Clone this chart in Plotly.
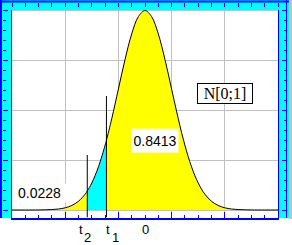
import plotly.graph_objects as go

W, H = 292, 245
MB = 26
PH = H - MB  # plotting height inside margins

# ---------------- data ----------------
curve_x = [-5, -4.5, -4, -3.75, -3.5, -3.25, -3, -2.75, -2.5, -2.25, -2.17, -2, -1.75,
           -1.5, -1.45, -1.25, -1, -0.75, -0.5, -0.25, 0, 0.25, 0.5, 0.75, 1, 1.25,
           1.5, 1.75, 2, 2.25, 2.5, 2.75, 3, 3.25, 3.5, 3.75, 4, 4.5, 5]
curve_y = [0.0, 0.0, 0.0001, 0.0004, 0.0009, 0.002, 0.0044, 0.0091, 0.0175, 0.0317, 0.0379,
           0.054, 0.0863, 0.1295, 0.1394, 0.1826, 0.242, 0.3011, 0.3521, 0.3867, 0.3989,
           0.3867, 0.3521, 0.3011, 0.242, 0.1826, 0.1295, 0.0863, 0.054, 0.0317, 0.0175,
           0.0091, 0.0044, 0.002, 0.0009, 0.0004, 0.0001, 0.0, 0.0]
t_values = [-2.17, -1.45]          # t2, t1
t_line_tops = [0.11, 0.228]
shade_colors = ["#ffff00", "#00ffff", "#ffff00"]
area_labels = ["0.0228", "0.8413"]
area_label_x = [-3.98, 0.365]
area_label_y = [0.034, 0.139]
dist_label = "N[0;1]"
dist_label_x = 3.0
dist_label_y = 0.234
tick_main = ["t", "t", "0"]
tick_sub = ["2", "1", ""]
tick_x = [-2.42, -1.39, 0.0]
x_range = [-5, 5]
y_range = [-0.015, 0.4]

BLUE = "#0000ff"
CYAN = "#00ffff"
GRID = "#c0c0c0"

fig = go.Figure()

# shaded areas under the curve
t2, t1 = t_values
segs = [(x_range[0], t2), (t2, t1), (t1, x_range[1])]
for (a, b), c in zip(segs, shade_colors):
    xs = [x for x in curve_x if a <= x <= b]
    ys = [y for x, y in zip(curve_x, curve_y) if a <= x <= b]
    fig.add_trace(go.Scatter(x=xs, y=ys, mode="lines", fill="tozeroy", fillcolor=c,
                             line=dict(width=0, shape="spline", color=c),
                             showlegend=False, hoverinfo="skip"))

# density curve
fig.add_trace(go.Scatter(x=curve_x, y=curve_y, mode="lines",
                         line=dict(color="black", width=1, shape="spline"),
                         showlegend=False, hoverinfo="skip"))

# vertical t lines
for tv, top in zip(t_values, t_line_tops):
    fig.add_trace(go.Scatter(x=[tv, tv], y=[y_range[0], top], mode="lines",
                             line=dict(color="black", width=1),
                             showlegend=False, hoverinfo="skip"))

# dummy traces to register frame axes
fig.add_trace(go.Scatter(x=[None], y=[None], xaxis="x2", yaxis="y", showlegend=False))
fig.add_trace(go.Scatter(x=[None], y=[None], xaxis="x", yaxis="y2", showlegend=False))
fig.add_trace(go.Scatter(x=[None], y=[None], xaxis="x", yaxis="y3", showlegend=False))

x_dom = [12 / W, 278 / W]
y_dom = [1.5 / PH, 1 - 10 / PH]

fig.update_layout(
    width=W, height=H,
    margin=dict(l=0, r=0, t=0, b=MB, pad=0),
    paper_bgcolor="white", plot_bgcolor="white",
    showlegend=False,
    xaxis=dict(domain=x_dom, range=x_range, showgrid=True, gridcolor=GRID, gridwidth=1,
               tick0=-1, dtick=2, ticks="inside", ticklen=6, tickcolor=BLUE, tickwidth=1,
               minor=dict(tick0=-5, dtick=0.5, ticks="inside", ticklen=3, tickcolor=BLUE,
                          showgrid=False),
               showline=True, linecolor=BLUE, linewidth=1.5, zeroline=False,
               showticklabels=False, fixedrange=True, automargin=False),
    yaxis=dict(domain=y_dom, range=y_range, tick0=0, dtick=0.1, showgrid=True,
               gridcolor=GRID, gridwidth=1, ticks="", showline=True, linecolor=BLUE,
               linewidth=1, mirror=True, zeroline=False, showticklabels=False,
               fixedrange=True, automargin=False),
    xaxis2=dict(overlaying="x", anchor="free", position=1 - 2 / PH, side="bottom",
                range=x_range, tick0=-5, dtick=0.5, ticks="outside", ticklen=4,
                tickcolor=BLUE, showgrid=False, showline=False, zeroline=False,
                showticklabels=False, fixedrange=True, automargin=False),
    yaxis2=dict(overlaying="y", anchor="free", position=2 / W, side="right",
                range=y_range, tick0=0, dtick=0.1, ticks="outside", ticklen=5,
                tickcolor=BLUE,
                minor=dict(dtick=0.02, ticks="outside", ticklen=3, tickcolor=BLUE),
                showgrid=False, showline=False, zeroline=False, showticklabels=False,
                fixedrange=True, automargin=False),
    yaxis3=dict(overlaying="y", anchor="free", position=286.5 / W, side="left",
                range=y_range, tick0=0, dtick=0.1, ticks="outside", ticklen=5,
                tickcolor=BLUE,
                minor=dict(dtick=0.02, ticks="outside", ticklen=3, tickcolor=BLUE),
                showgrid=False, showline=False, zeroline=False, showticklabels=False,
                fixedrange=True, automargin=False),
)

def py(p):
    return 1 - p / PH

shapes = [
    dict(type="rect", xref="paper", yref="paper", x0=0, x1=12 / W, y0=py(218), y1=1,
         fillcolor=CYAN, line=dict(width=0), layer="below"),
    dict(type="rect", xref="paper", yref="paper", x0=0, x1=289 / W, y0=py(10), y1=1,
         fillcolor=CYAN, line=dict(width=0), layer="below"),
    dict(type="rect", xref="paper", yref="paper", x0=278 / W, x1=289 / W, y0=py(218), y1=1,
         fillcolor=CYAN, line=dict(width=0), layer="below"),
    dict(type="rect", xref="paper", yref="paper", x0=289 / W, x1=1, y0=py(219), y1=1,
         fillcolor="#c0c0c0", line=dict(width=0), layer="below"),
    dict(type="line", xref="paper", yref="paper", x0=0, x1=289 / W, y0=py(1.5), y1=py(1.5),
         line=dict(color=BLUE, width=2), layer="below"),
    dict(type="line", xref="paper", yref="paper", x0=1 / W, x1=1 / W, y0=py(218), y1=1,
         line=dict(color=BLUE, width=2), layer="below"),
    dict(type="line", xref="paper", yref="paper", x0=286.5 / W, x1=286.5 / W, y0=py(218), y1=1,
         line=dict(color=BLUE, width=1), layer="below"),
    dict(type="line", xref="paper", yref="paper", x0=12 / W, x1=278 / W, y0=py(10.5), y1=py(10.5),
         line=dict(color=GRID, width=1), layer="below"),
]
fig.update_layout(shapes=shapes)

ann = []
box_sizes = [(51, 16), (44, 21)]
for txt, ax_, ay_, (bw, bh) in zip(area_labels, area_label_x, area_label_y, box_sizes):
    ann.append(dict(x=ax_, y=ay_, xref="x", yref="y", text=txt, showarrow=False,
                    font=dict(family="Liberation Sans, Arial", size=14, color="black"),
                    bgcolor="white", width=bw, height=bh, borderpad=1))
ann.append(dict(x=dist_label_x, y=dist_label_y, xref="x", yref="y", text=dist_label,
                showarrow=False,
                font=dict(family="Liberation Serif, Times New Roman", size=16, color="black"),
                bgcolor="white", bordercolor="black", borderwidth=1, borderpad=1,
                width=52, height=17))
for m, s, tx in zip(tick_main, tick_sub, tick_x):
    ann.append(dict(x=tx, y=py(229), xref="x", yref="paper", text=m, showarrow=False,
                    yanchor="middle", xanchor="center",
                    font=dict(family="Liberation Sans, Arial", size=13, color="black")))
    if s:
        ann.append(dict(x=tx, y=py(229), xref="x", yref="paper", text=s, showarrow=False,
                        yanchor="middle", xanchor="center", xshift=7, yshift=-8,
                        font=dict(family="Liberation Sans, Arial", size=13, color="black")))
fig.update_layout(annotations=ann)

fig.write_html("out.html", config={"displayModeBar": False})
